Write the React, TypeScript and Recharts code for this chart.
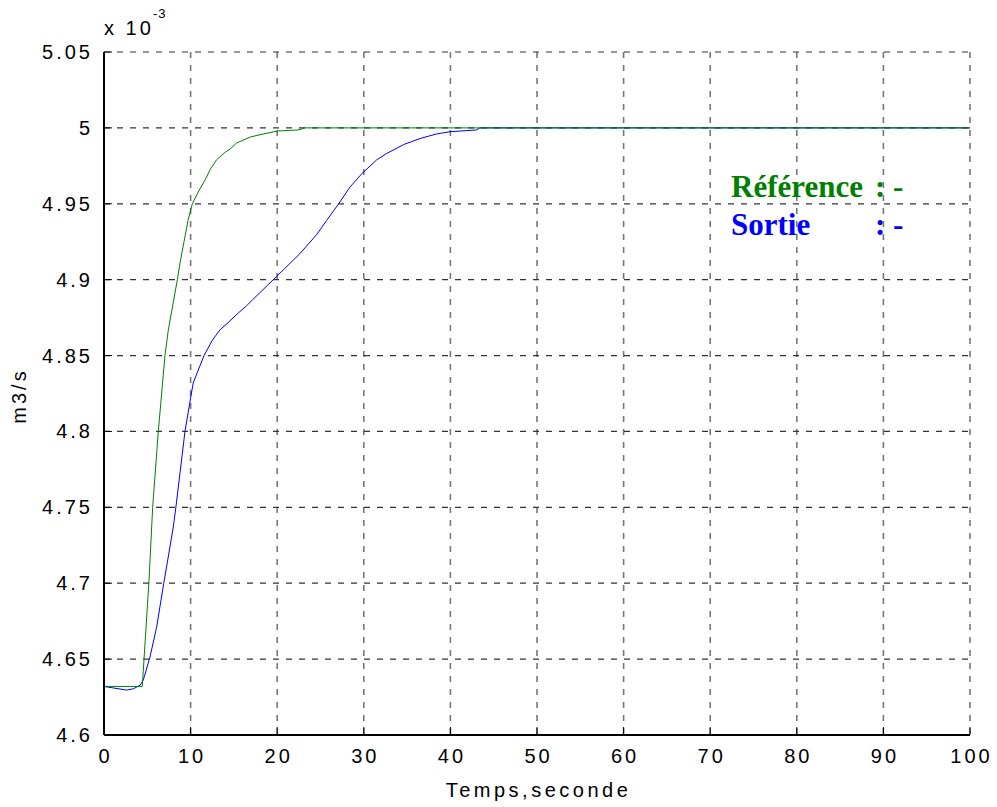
import { LineChart, Line, XAxis, YAxis, CartesianGrid } from "recharts";

// Reference signal (green), time in s, flow in 1e-3 m3/s
const refTime = [0, 4.42, 4.6, 5.2, 5.62, 6.27, 7.04, 7.43, 8.0, 8.47, 8.78, 9.7, 10.2, 11.0, 11.7, 12.3, 13.0, 14.0, 14.55, 15.3, 16.9, 18.4, 20.1, 22.4, 23.2, 100];
const refFlow = [4.632, 4.632, 4.648, 4.702, 4.75, 4.8, 4.85, 4.867, 4.885, 4.9, 4.911, 4.939, 4.95, 4.959, 4.966, 4.973, 4.979, 4.984, 4.986, 4.99, 4.994, 4.996, 4.998, 4.9986, 5.0, 5.0];

// Output signal (blue)
const outTime = [0, 1.08, 2.6, 3.4, 4.16, 4.54, 5.31, 6.08, 6.9, 7.5, 8.0, 8.3, 9.35, 10.3, 11.55, 12.5, 13.4, 14.2, 15.5, 16.5, 17.2, 19.55, 22.6, 24.6, 25.7, 27.1, 28.4, 29.8, 31.5, 32.6, 34.6, 36.5, 38.4, 40.0, 43.0, 43.4, 100];
const outFlow = [4.632, 4.631, 4.6296, 4.6305, 4.6327, 4.6363, 4.6514, 4.6711, 4.7, 4.72, 4.737, 4.75, 4.8, 4.832, 4.85, 4.86, 4.867, 4.871, 4.878, 4.883, 4.887, 4.9, 4.917, 4.93, 4.939, 4.95, 4.961, 4.97, 4.979, 4.983, 4.989, 4.993, 4.996, 4.9975, 4.9986, 5.0, 5.0];

const xTicks = [0, 10, 20, 30, 40, 50, 60, 70, 80, 90, 100];
const yTicks = [4.6, 4.65, 4.7, 4.75, 4.8, 4.85, 4.9, 4.95, 5, 5.05];

const refData = refTime.map((t, i) => ({ t, v: refFlow[i] }));
const outData = outTime.map((t, i) => ({ t, v: outFlow[i] }));

const FONT = "'Liberation Sans', Arial, sans-serif";
const LS = 3;
const TICK_LEN = 8;

function BottomTick({ x, y, payload }: any) {
  return (
    <g>
      <line x1={x} x2={x} y1={y} y2={y - TICK_LEN} stroke="#000" />
      <text x={x + LS / 2} y={y + 28} textAnchor="middle" fontFamily={FONT} fontSize={20} letterSpacing={LS} fill="#000">
        {payload.value}
      </text>
    </g>
  );
}

function LeftTick({ x, y, payload }: any) {
  return (
    <g>
      <line x1={x} x2={x + TICK_LEN} y1={y} y2={y} stroke="#000" />
      <text x={x - 11} y={y + 7} textAnchor="end" fontFamily={FONT} fontSize={20} letterSpacing={LS} fill="#000">
        {String(payload.value)}
      </text>
    </g>
  );
}

function TopTick({ x, y }: any) {
  return <line x1={x} x2={x} y1={y} y2={y + TICK_LEN} stroke="#000" />;
}

function RightTick({ x, y }: any) {
  return <line x1={x} x2={x - TICK_LEN} y1={y} y2={y} stroke="#000" />;
}

export default function App() {
  return (
    <div style={{ position: "absolute", left: 0, top: 0, background: "#fff" }}>
      <LineChart
        width={997}
        height={807}
        margin={{ top: 52, right: 27, bottom: 42, left: 44 }}
      >
        <CartesianGrid horizontal={false} stroke="#777" strokeWidth={1.6} strokeDasharray="6 7" />
        <CartesianGrid vertical={false} stroke="#333" strokeWidth={1.2} strokeDasharray="6 7" />
        <XAxis
          dataKey="t"
          type="number"
          domain={[0, 100]}
          ticks={xTicks}
          height={30}
          tickSize={0}
          tickMargin={0}
          tickLine={false}
          axisLine={{ stroke: "#000", strokeWidth: 2 }}
          tick={<BottomTick />}
          interval={0}
        />
        <XAxis
          xAxisId="top"
          orientation="top"
          dataKey="t"
          type="number"
          domain={[0, 100]}
          ticks={xTicks}
          height={0}
          tickSize={0}
          tickMargin={0}
          tickLine={false}
          axisLine={{ stroke: "#000", strokeWidth: 2 }}
          tick={<TopTick />}
          interval={0}
        />
        <YAxis
          type="number"
          domain={[4.6, 5.05]}
          ticks={yTicks}
          width={60}
          tickSize={0}
          tickMargin={0}
          tickLine={false}
          axisLine={{ stroke: "#000", strokeWidth: 2 }}
          tick={<LeftTick />}
          interval={0}
        />
        <YAxis
          yAxisId="right"
          orientation="right"
          type="number"
          domain={[4.6, 5.05]}
          ticks={yTicks}
          width={0}
          tickSize={0}
          tickMargin={0}
          tickLine={false}
          axisLine={{ stroke: "#000", strokeWidth: 2 }}
          tick={<RightTick />}
          interval={0}
        />
        <Line
          data={outData}
          dataKey="v"
          type="linear"
          stroke="#0000ff"
          strokeWidth={1}
          dot={false}
          isAnimationActive={false}
        />
        <Line
          data={refData}
          dataKey="v"
          type="linear"
          stroke="#008000"
          strokeWidth={1}
          dot={false}
          isAnimationActive={false}
        />
        <text x={104} y={35} fontFamily={FONT} fontSize={20} letterSpacing={LS} fill="#000">
          x 10
        </text>
        <text x={153} y={18} fontFamily={FONT} fontSize={13} letterSpacing={1} fill="#000">
          -3
        </text>
        <text x={537 + LS / 2} y={797} textAnchor="middle" fontFamily={FONT} fontSize={20} letterSpacing={3.5} fill="#000">
          Temps,seconde
        </text>
        <text
          x={26}
          y={396}
          textAnchor="middle"
          transform="rotate(-90 26 396)"
          fontFamily={FONT}
          fontSize={20}
          letterSpacing={LS}
          fill="#000"
        >
          m3/s
        </text>
        <g fontFamily="'Liberation Serif', 'Times New Roman', serif" fontWeight="bold" fontSize={31}>
          <text x={731} y={197} fill="#008000">Référence</text>
          <text x={875} y={197} fill="#008000">:</text>
          <text x={893} y={197} fill="#008000">-</text>
          <text x={731} y={235} fill="#0000ff">Sortie</text>
          <text x={875} y={235} fill="#0000ff">:</text>
          <text x={893} y={235} fill="#0000ff">-</text>
        </g>
      </LineChart>
    </div>
  );
}
